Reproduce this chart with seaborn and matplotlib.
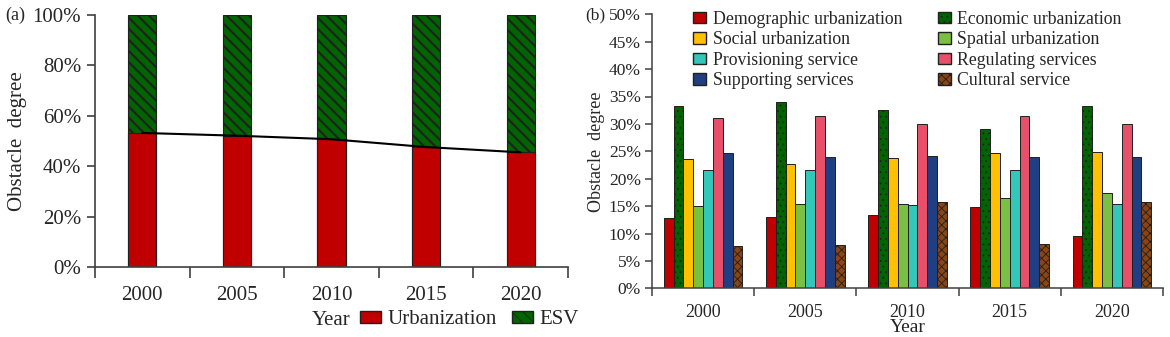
import numpy as np
import pandas as pd
import seaborn as sns
import matplotlib.pyplot as plt
from matplotlib.patches import Patch
from matplotlib.ticker import FuncFormatter, FixedLocator

years = ["2000", "2005", "2010", "2015", "2020"]

# panel (a): share of urbanization in the total obstacle degree (%)
urban_share = [53.2, 52.1, 50.7, 47.6, 45.5]

# panel (b): obstacle degree of each indicator (%)
indicators = ["Demographic urbanization", "Economic urbanization", "Social urbanization",
              "Spatial urbanization", "Provisioning service", "Regulating services",
              "Supporting services", "Cultural service"]
demographic = [12.8, 13.1, 13.4, 14.8, 9.5]
economic = [33.3, 34.0, 32.5, 29.0, 33.3]
social = [23.6, 22.6, 23.7, 24.7, 24.9]
spatial = [15.1, 15.3, 15.3, 16.5, 17.4]
provisioning = [21.5, 21.6, 15.2, 21.6, 15.3]
regulating = [31.1, 31.5, 29.9, 31.4, 30.0]
supporting = [24.6, 24.0, 24.2, 23.9, 23.9]
cultural = [7.7, 7.9, 15.7, 8.0, 15.7]

colors = ["#c00000", "#006400", "#ffc000", "#7ac143", "#33c7b9", "#e8506a", "#1f3f82", "#8b4513"]
hatches = [None, "...", None, None, None, None, None, "xxxx"]

sns.set_theme(style="ticks")
plt.rcParams["font.family"] = ["Liberation Serif", "DejaVu Serif"]
plt.rcParams["hatch.linewidth"] = 0.6
spine_col = "#404040"

fig = plt.figure(figsize=(11.7, 3.37), dpi=100)
ax1 = fig.add_axes([95 / 1170, 1 - 267 / 337, 473 / 1170, 252 / 337])
ax2 = fig.add_axes([652 / 1170, 1 - 288.3 / 337, 511 / 1170, 274 / 337])

# ---------- (a) ----------
df_a = pd.DataFrame({"year": years, "urban": urban_share, "total": [100] * len(years)})
sns.barplot(data=df_a, x="year", y="total", color="#006400", saturation=1, width=0.3,
            edgecolor="#202020", linewidth=0.8, hatch="\\\\\\", ax=ax1)
for bar in ax1.patches:
    if hasattr(bar, "set_hatch_linewidth"):
        bar.set_hatch_linewidth(1.5)
sns.barplot(data=df_a, x="year", y="urban", color="#c00000", saturation=1, width=0.3,
            edgecolor="#202020", linewidth=0.8, ax=ax1)
ax1.plot(np.arange(len(years)), urban_share, color="black", lw=1.5)

ax1.set_ylim(0, 100)
ax1.set_xlim(-0.5, len(years) - 0.5)
ax1.set_yticks(np.arange(0, 101, 20))
ax1.yaxis.set_major_formatter(FuncFormatter(lambda v, p: f"{v:.0f}%"))
ax1.xaxis.set_minor_locator(FixedLocator(np.arange(-0.5, len(years), 1.0)))
ax1.tick_params(axis="x", which="major", length=0, pad=14, labelsize=15)
ax1.tick_params(axis="x", which="minor", length=8, width=1.2, color=spine_col)
ax1.tick_params(axis="y", length=6, width=1.2, color=spine_col, labelsize=15, pad=4)
ax1.set_ylabel("Obstacle  degree", fontsize=15, labelpad=4)
ax1.set_xlabel("Year", fontsize=15, labelpad=4)
for s in ["top", "right"]:
    ax1.spines[s].set_visible(False)
for s in ["left", "bottom"]:
    ax1.spines[s].set_color(spine_col)
    ax1.spines[s].set_linewidth(1.2)

esv_handle = Patch(facecolor="#006400", edgecolor="#202020", hatch="\\\\\\", label="ESV")
if hasattr(esv_handle, "set_hatch_linewidth"):
    esv_handle.set_hatch_linewidth(1.5)
leg_a = [Patch(facecolor="#c00000", edgecolor="#202020", label="Urbanization"), esv_handle]
fig.legend(handles=leg_a, loc="center left", bbox_to_anchor=(360 / 1170, 1 - 320 / 337),
           ncol=2, frameon=False, fontsize=15, handlelength=1.0, handleheight=0.55,
           handletextpad=0.3, columnspacing=0.75, borderpad=0, borderaxespad=0)

# ---------- (b) ----------
series = [demographic, economic, social, spatial, provisioning, regulating, supporting, cultural]
df_b = pd.DataFrame({
    "year": np.repeat(years, len(indicators)).tolist(),
    "indicator": indicators * len(years),
    "value": [series[j][i] for i in range(len(years)) for j in range(len(indicators))],
})
sns.barplot(data=df_b, x="year", y="value", hue="indicator", hue_order=indicators,
            palette=colors, saturation=1, width=0.77, edgecolor="#202020", linewidth=0.7,
            legend=False, ax=ax2)
for cont, h in zip(ax2.containers, hatches):
    if h:
        for bar in cont:
            bar.set_hatch(h)

ax2.set_ylim(0, 50)
ax2.set_xlim(-0.5, len(years) - 0.5)
ax2.set_yticks(np.arange(0, 51, 5))
ax2.yaxis.set_major_formatter(FuncFormatter(lambda v, p: f"{v:.0f}%"))
ax2.xaxis.set_minor_locator(FixedLocator(np.arange(-0.5, len(years), 1.0)))
ax2.tick_params(axis="x", which="major", length=0, pad=11, labelsize=13)
ax2.tick_params(axis="x", which="minor", length=6, width=1.1, color=spine_col)
ax2.tick_params(axis="y", length=5, width=1.1, color=spine_col, labelsize=12.5, pad=3)
ax2.set_ylabel("Obstacle  degree", fontsize=13, labelpad=3)
ax2.set_xlabel("Year", fontsize=14, labelpad=-1)
for s in ["top", "right"]:
    ax2.spines[s].set_visible(False)
for s in ["left", "bottom"]:
    ax2.spines[s].set_color(spine_col)
    ax2.spines[s].set_linewidth(1.1)

# legend filled row by row: reorder for matplotlib's column-first filling
order = [0, 2, 4, 6, 1, 3, 5, 7]
leg_b = [Patch(facecolor=colors[k], edgecolor="#202020", hatch=hatches[k], label=indicators[k])
         for k in order]
ax2.legend(handles=leg_b, loc="upper left", bbox_to_anchor=(41 / 511, 1.013), ncol=2,
           frameon=False, fontsize=12.8, handlelength=0.75, handleheight=0.63,
           handletextpad=0.35, columnspacing=2.0, labelspacing=0.2, borderpad=0,
           borderaxespad=0)

fig.text(5 / 1170, 1 - 15 / 337, "(a)", fontsize=13, va="center")
fig.text(585 / 1170, 1 - 15 / 337, "(b)", fontsize=12.5, va="center")

fig.savefig("out.png", dpi=100)
